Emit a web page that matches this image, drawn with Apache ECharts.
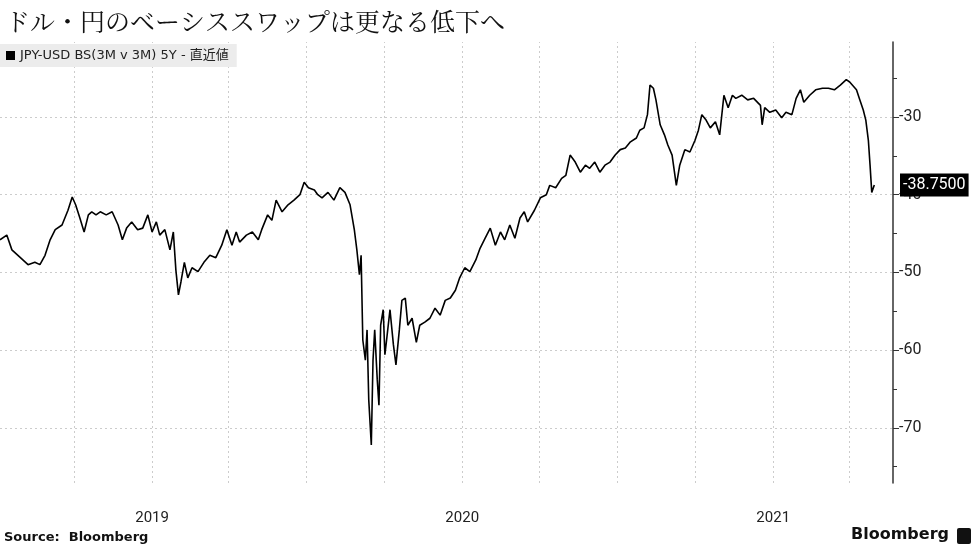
<!DOCTYPE html>
<html>
<head>
<meta charset="utf-8">
<script src="https://cdn.jsdelivr.net/npm/echarts@6/dist/echarts.min.js"></script>
<style>html,body{margin:0;padding:0;background:#fff}#chart{width:977px;height:549px}</style>
</head>
<body>
<div id="chart"></div>
<script>
// 起点 2018-07-06 からの日数
const startDate = '2018-07-06';
const dayOffsets = [0,8,14,24,33,41,47,53,59,65,73,80,85,89,94,99,104,108,113,118,125,132,139,144,149,155,162,168,174,179,184,188,194,200,204,207,210,213,217,221,226,233,240,247,254,261,267,273,278,282,290,297,304,308,315,320,325,332,339,346,353,358,363,370,374,379,386,393,400,406,412,417,420,423,425,427,430,432,434,437,439,441,444,446,448,451,453,455,459,463,466,470,473,477,480,485,490,494,500,506,512,518,524,530,536,541,547,553,560,565,571,577,583,589,594,600,606,612,617,621,629,636,643,647,654,661,666,671,677,683,689,694,700,706,712,718,724,730,736,742,749,753,758,762,765,769,772,777,782,786,791,796,800,806,812,818,822,826,831,836,842,847,852,857,862,866,873,880,887,895,897,900,906,913,920,925,932,937,942,946,953,960,968,975,982,989,996,1000,1008,1012,1016,1019,1022,1024,1026,1029];
const basisValues = [-45.8,-45.2,-47.1,-48.1,-49.0,-48.7,-49.0,-47.8,-45.8,-44.5,-43.9,-42.0,-40.3,-41.3,-43.0,-44.8,-42.6,-42.2,-42.6,-42.2,-42.6,-42.2,-43.9,-45.8,-44.3,-43.5,-44.5,-44.3,-42.6,-44.8,-43.5,-45.2,-44.5,-47.1,-44.8,-49.7,-52.9,-51.2,-48.7,-50.7,-49.4,-49.9,-48.7,-47.8,-48.1,-46.5,-44.5,-46.5,-44.8,-46.1,-45.2,-44.8,-45.8,-44.5,-42.6,-43.3,-40.7,-42.2,-41.3,-40.7,-40.0,-38.4,-39.1,-39.4,-40.0,-40.4,-39.7,-40.7,-39.1,-39.7,-41.3,-44.5,-47.1,-50.3,-47.8,-58.7,-61.3,-57.4,-66.4,-72.2,-61.3,-57.4,-63.8,-67.1,-56.8,-54.8,-60.6,-58.7,-54.8,-59.3,-61.9,-57.4,-53.6,-53.3,-56.8,-55.9,-59.0,-56.8,-56.4,-55.9,-54.6,-55.5,-53.6,-53.3,-52.3,-50.7,-49.4,-49.9,-48.4,-46.9,-45.6,-44.3,-46.5,-44.8,-45.8,-43.9,-45.6,-43.0,-42.2,-43.5,-42.0,-40.4,-40.0,-38.8,-39.1,-37.9,-37.5,-34.9,-35.8,-37.1,-36.2,-36.6,-35.8,-37.1,-36.2,-35.8,-34.9,-34.2,-34.0,-33.2,-32.7,-31.7,-31.4,-29.7,-25.9,-26.3,-27.8,-31.0,-32.3,-33.6,-34.9,-38.8,-36.2,-34.2,-34.5,-33.0,-31.7,-29.7,-30.4,-31.4,-30.6,-32.3,-27.2,-28.8,-27.2,-27.6,-27.2,-27.8,-27.6,-28.5,-31.0,-28.8,-29.4,-29.1,-30.1,-29.4,-29.7,-27.6,-26.5,-28.1,-27.2,-26.5,-26.3,-26.3,-26.5,-25.9,-25.2,-25.5,-26.5,-27.8,-29.1,-30.4,-33.0,-36.2,-39.7,-38.75];
const yearLabels = ['2019-01-01', '2020-01-01', '2021-01-01'];
const quarterLines = ['2018-10-01','2019-01-01','2019-04-01','2019-07-01','2019-10-01','2020-01-01','2020-04-01','2020-07-01','2020-10-01','2021-01-01','2021-04-01'];
const yLabelValues = [-70, -60, -50, -40, -30];
const yMinorValues = [-75, -65, -55, -45, -35, -25];
const lastValue = -38.75;

const DAY = 86400000;
const toTime = s => new Date(s + 'T00:00:00Z').getTime();
const t0 = toTime(startDate);
const seriesData = dayOffsets.map((d, i) => [t0 + d * DAY, basisValues[i]]);
const font = 'Roboto, "Noto Sans CJK JP", sans-serif';
const yRange = { min: -77.1, max: -20.35 };

const chart = echarts.init(document.getElementById('chart'));
chart.setOption({
	animation: false,
	textStyle: { fontFamily: font },
	title: {
		text: 'ドル・円のベーシススワップは更なる低下へ',
		left: 0, top: 4,
		textStyle: { fontSize: 25, fontWeight: 'normal', color: '#111', fontFamily: '"Noto Serif CJK JP","Noto Sans CJK JP",serif' }
	},
	legend: {
		left: 0, top: 44,
		padding: [5, 8, 5, 6],
		backgroundColor: '#ececec',
		icon: 'rect', itemWidth: 9, itemHeight: 9, itemGap: 4,
		textStyle: { fontSize: 13, color: '#222', fontFamily: '"DejaVu Sans","Noto Sans CJK JP",sans-serif' }
	},
	grid: { left: 0, right: 84, top: 42, bottom: 66 },
	xAxis: {
		type: 'value',
		min: t0,
		max: t0 + 1051 * DAY,
		axisLine: { show: false },
		axisTick: { show: false },
		axisLabel: {
			customValues: yearLabels.map(toTime),
			formatter: v => String(new Date(v).getUTCFullYear()),
			color: '#222', fontSize: 15, margin: 28
		},
		splitLine: { show: false }
	},
	yAxis: [{
		type: 'value', position: 'right', ...yRange,
		axisLine: { show: true, lineStyle: { color: '#333', width: 1.5 } },
		axisTick: { show: true, customValues: yLabelValues, length: 6, lineStyle: { color: '#333' } },
		axisLabel: { customValues: yLabelValues, color: '#222', fontSize: 16, margin: 6 },
		splitLine: { show: true, lineStyle: { color: '#ccc', type: [2, 3] } }
	}, {
		type: 'value', position: 'right', ...yRange,
		axisLine: { show: false },
		axisTick: { show: true, customValues: yMinorValues, length: 4, lineStyle: { color: '#333' } },
		axisLabel: { show: false },
		splitLine: { show: false }
	}, {
		type: 'value', position: 'right', ...yRange,
		axisLine: { show: false },
		axisTick: { show: false },
		axisLabel: {
			customValues: [lastValue],
			formatter: v => v.toFixed(4),
			color: '#fff', backgroundColor: '#000', fontSize: 16,
			padding: [4, 3, 3, 3], margin: 7
		},
		splitLine: { show: false }
	}],
	series: [{
		name: 'JPY-USD BS(3M v 3M) 5Y - 直近値',
		type: 'line',
		data: seriesData,
		showSymbol: false,
		itemStyle: { color: '#000' },
		lineStyle: { color: '#000', width: 1.6 },
		z: 5,
		// 四半期の縦グリッド
		markLine: {
			symbol: 'none', silent: true, label: { show: false }, z: 1,
			lineStyle: { color: '#ccc', type: [2, 3], width: 1 },
			data: quarterLines.map(s => ({ xAxis: toTime(s) }))
		}
	}],
	graphic: [
		{ type: 'text', left: 4, bottom: 5, style: { text: 'Source:  Bloomberg', font: 'bold 13px "DejaVu Sans", sans-serif', fill: '#111' } },
		{ type: 'text', right: 28, bottom: 6, style: { text: 'Bloomberg', font: 'bold 16px "DejaVu Sans", sans-serif', fill: '#111' } },
		{ type: 'rect', right: 6, bottom: 5, shape: { width: 14, height: 16, r: 2 }, style: { fill: '#111' } }
	]
});
</script>
</body>
</html>
